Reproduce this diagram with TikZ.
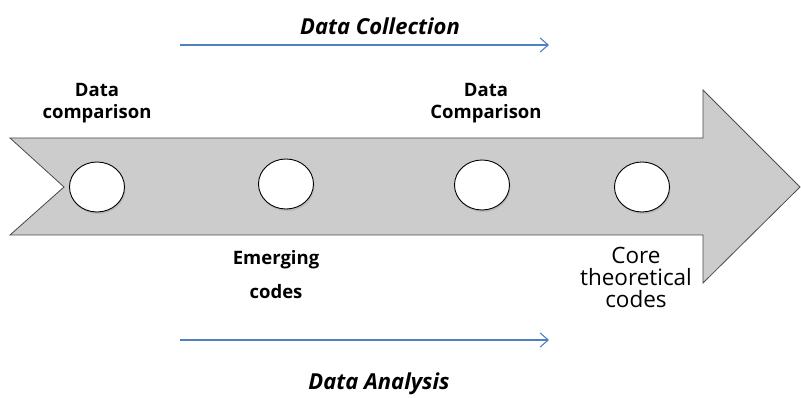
\documentclass[tikz,border=0pt]{standalone}
\usepackage{fontspec}
\setmainfont{Open Sans}
\usetikzlibrary{shadows,arrows.meta,shapes.geometric}
\definecolor{arrowgray}{HTML}{CCCCCC}
\definecolor{lineblue}{HTML}{4F81BD}
\tikzset{
  stage/.style={ellipse, draw=black, line width=0.9pt, fill=white, minimum width=55pt, minimum height=50pt, inner sep=0pt,
    drop shadow={shadow xshift=1pt, shadow yshift=-2pt, opacity=0.25}},
  lbl/.style={align=center, font=\bfseries\fontsize{18.5}{22}\selectfont},
  lblreg/.style={align=center, font=\fontsize{22.5}{22}\selectfont},
  ttl/.style={font=\bfseries\itshape\fontsize{22}{24}\selectfont},
  flow/.style={draw=lineblue, line width=1.1pt, -{Straight Barb[length=8pt,width=14pt]}}
}
\begin{document}
\begin{tikzpicture}[x=1pt,y=-1pt]
\useasboundingbox (0,0) rectangle (801,398);
\draw[fill=arrowgray, draw=black!70, line width=0.8pt]
  (10,138) -- (703,138) -- (703,90) -- (800,187) -- (703,283) -- (703,235) -- (10,235) -- (64,187) -- cycle;
\node[stage] (c1) at (97,187) {};
\node[stage] (c2) at (286,184) {};
\node[stage] (c3) at (482,185) {};
\node[stage] (c4) at (642,187) {};
\node[lbl] (t1) at (97,103) {Data\\comparison};
\node[lbl] (t3) at (486,103) {Data\\Comparison};
\node[lbl] (t2) at (276,275) {Emerging\\[12pt]codes};
\node[lblreg] (t4) at (636,277) {Core\\theoretical\\codes};
\coordinate (a1) at (180,45);
\coordinate (b1) at (549,45);
\coordinate (a2) at (180,340);
\coordinate (b2) at (549,340);
\draw[flow] (a1) -- (b1);
\draw[flow] (a2) -- (b2);
\node[ttl] (h1) at (380,26) {Data Collection};
\node[ttl] (h2) at (379,384) {Data Analysis};
\end{tikzpicture}
\end{document}
